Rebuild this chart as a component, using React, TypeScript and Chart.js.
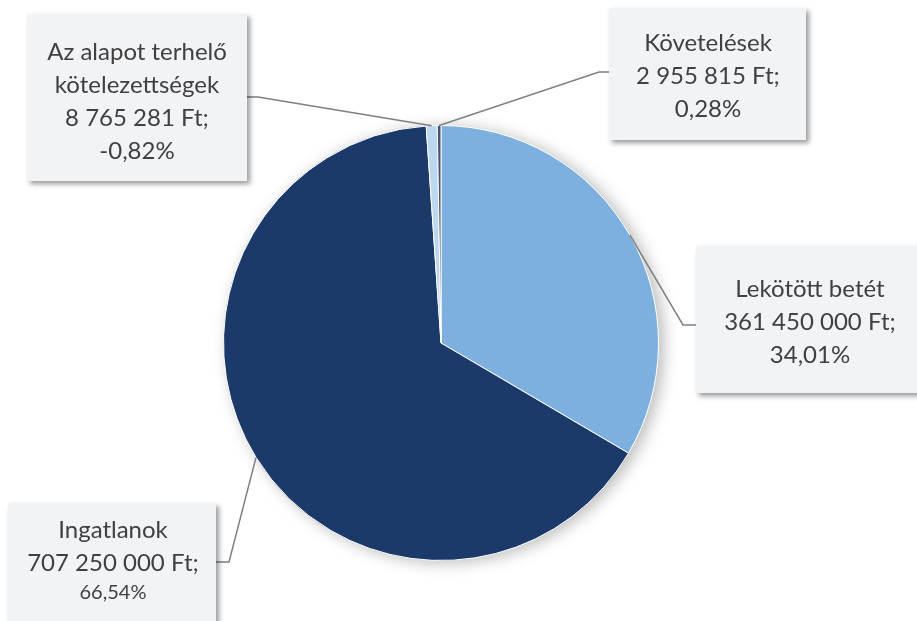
import React, { useEffect, useRef } from "react";
import { Chart, registerables } from "chart.js";

Chart.register(...registerables);

const categories = ["Lekötött betét", "Ingatlanok", "Az alapot terhelő kötelezettségek", "Követelések"];
const values = [361450000, 707250000, -8765281, 2955815];
const colors = ["#7EB0DF", "#1B3A6A", "#BDD7EE", "#44546A"];

// label box layout (positions only)
const boxes = [
  { x: 696, y: 246, w: 250, h: 147, cx: 810, firstY: 289, elbowX: 683, lineY: 325, edgeX: 696, pctSize: 24 },
  { x: 8, y: 503, w: 208, h: 140, cx: 113, firstY: 530, elbowX: 229, lineY: 562, edgeX: 216, pctSize: 20 },
  { x: 27, y: 14, w: 220, h: 167, cx: 137, firstY: 52, elbowX: 258, lineY: 97, edgeX: 247, pctSize: 24 },
  { x: 609, y: 8, w: 197, h: 132, cx: 708, firstY: 43, elbowX: 599, lineY: 72, edgeX: 609, pctSize: 24 },
];

const FONT = "Lato, 'Open Sans', sans-serif";

function fmtNum(n: number): string {
  const s = Math.round(Math.abs(n)).toString();
  return s.replace(/\B(?=(\d{3})+(?!\d))/g, " ");
}

function wrap(ctx: CanvasRenderingContext2D, text: string, maxW: number): string[] {
  const words = text.split(" ");
  const lines: string[] = [];
  let cur = "";
  for (const w of words) {
    const t = cur ? cur + " " + w : w;
    if (ctx.measureText(t).width > maxW && cur) {
      lines.push(cur);
      cur = w;
    } else cur = t;
  }
  if (cur) lines.push(cur);
  return lines;
}

const labelPlugin = {
  id: "boxLabels",
  beforeDatasetsDraw(chart: any) {
    const meta = chart.getDatasetMeta(0);
    const a = meta.data[0];
    if (!a) return;
    const { x, y, outerRadius } = a.getProps(["x", "y", "outerRadius"], true);
    const ctx = chart.ctx;
    ctx.save();
    ctx.shadowColor = "rgba(0,0,0,0.28)";
    ctx.shadowBlur = 16;
    ctx.shadowOffsetX = 5;
    ctx.shadowOffsetY = 2;
    ctx.beginPath();
    ctx.arc(x, y, outerRadius, 0, Math.PI * 2);
    ctx.fillStyle = "#ffffff";
    ctx.fill();
    ctx.restore();
  },
  afterDraw(chart: any) {
    const ctx = chart.ctx as CanvasRenderingContext2D;
    const meta = chart.getDatasetMeta(0);
    const total = values.reduce((s, v) => s + v, 0);
    meta.data.forEach((arc: any, i: number) => {
      const b = boxes[i];
      const p = arc.getProps(["x", "y", "startAngle", "endAngle", "outerRadius"], true);
      const mid = (p.startAngle + p.endAngle) / 2;
      const ax = p.x + Math.cos(mid) * p.outerRadius;
      const ay = p.y + Math.sin(mid) * p.outerRadius;
      ctx.save();
      ctx.strokeStyle = "#7F7F7F";
      ctx.lineWidth = 1.5;
      ctx.beginPath();
      ctx.moveTo(ax, ay);
      ctx.lineTo(b.elbowX, b.lineY);
      ctx.lineTo(b.edgeX, b.lineY);
      ctx.stroke();
      ctx.restore();
    });
    meta.data.forEach((arc: any, i: number) => {
      const b = boxes[i];
      ctx.save();
      ctx.shadowColor = "rgba(0,0,0,0.4)";
      ctx.shadowBlur = 5;
      ctx.shadowOffsetX = 3;
      ctx.shadowOffsetY = 3;
      ctx.fillStyle = "#F2F3F5";
      ctx.fillRect(b.x, b.y, b.w, b.h);
      ctx.restore();

      ctx.save();
      ctx.fillStyle = "#404040";
      ctx.textAlign = "center";
      ctx.textBaseline = "middle";
      ctx.font = `24px ${FONT}`;
      const nameLines = wrap(ctx, categories[i], 205);
      const pct = ((values[i] / total) * 100).toFixed(2).replace(".", ",") + "%";
      const lines = [...nameLines, `${fmtNum(values[i])} Ft;`];
      let yy = b.firstY;
      lines.forEach((l) => {
        ctx.fillText(l, b.cx, yy);
        yy += 33;
      });
      ctx.font = `${b.pctSize}px ${FONT}`;
      ctx.fillText(pct, b.cx, yy - (b.pctSize < 22 ? 3 : 0));
      ctx.restore();
    });
  },
};

export default function App() {
  const ref = useRef<HTMLCanvasElement | null>(null);
  useEffect(() => {
    if (!ref.current) return;
    const chart = new Chart(ref.current, {
      type: "pie",
      data: {
        labels: categories,
        datasets: [
          {
            data: values.map((v) => Math.abs(v)),
            backgroundColor: colors,
            borderColor: "#ffffff",
            borderWidth: 1,
          },
        ],
      },
      options: {
        responsive: false,
        animation: false,
        layout: { padding: { top: 125, bottom: 60, left: 0, right: 35 } },
        plugins: {
          legend: { display: false },
          tooltip: { enabled: false },
        },
      },
      plugins: [labelPlugin],
    });
    return () => chart.destroy();
  }, []);
  return (
    <div style={{ position: "absolute", left: 0, top: 0, width: 917, height: 621, background: "#fff", overflow: "hidden" }}>
      <canvas ref={ref} width={917} height={621} />
    </div>
  );
}
